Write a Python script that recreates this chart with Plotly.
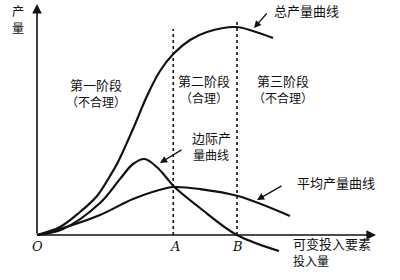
import plotly.graph_objects as go

# Variable input L and output Q
tp_L = [0, 0.92, 1.72, 2.4, 2.92, 3.24, 3.84, 4.4, 4.92, 5.45, 6.12, 6.8, 7.96, 8.64, 9.44]
tp_Q = [0, 0.8, 2.3, 3.9, 5.9, 7.3, 10.6, 13.9, 16.4, 18.1, 19.5, 20.3, 20.8, 20.4, 19.7]

mp_L = [0, 1.04, 2.52, 3.32, 3.84, 4.3, 4.79, 5.19, 5.5, 6.52, 8.0, 9.68]
mp_Q = [0, 0.6, 3.2, 5.6, 7.1, 7.6, 6.8, 5.7, 4.8, 2.7, 0, -1.6]

ap_L = [0, 1.04, 2.52, 3.84, 5.19, 5.5, 6.52, 8.04, 10.12]
ap_Q = [0, 0.7, 2.0, 3.6, 4.7, 4.8, 4.6, 3.9, 1.9]

point_A = 5.45
point_B = 8.0
stage_titles = ["第一阶段", "第二阶段", "第三阶段"]
stage_notes = ["（不合理）", "（合理）", "（不合理）"]

# pixel -> data helpers for layout placement
def X(px):
    return (px - 37) / 25.0

def Y(py):
    return (235 - py) / 10.0

fig = go.Figure()
line = dict(color="#111", width=2.2, shape="spline", smoothing=1.0)
fig.add_trace(go.Scatter(x=tp_L, y=tp_Q, mode="lines", line=line, hoverinfo="skip"))
fig.add_trace(go.Scatter(x=mp_L, y=mp_Q, mode="lines", line=line, hoverinfo="skip"))
fig.add_trace(go.Scatter(x=ap_L, y=ap_Q, mode="lines", line=line, hoverinfo="skip"))

# dashed stage boundaries
for xv, top in [(point_A, Y(29)), (point_B, Y(22))]:
    fig.add_shape(type="line", x0=xv, x1=xv, y0=0, y1=top,
                  line=dict(color="#111", width=1.6, dash="dot"))

ann = []
# axes with arrows
ann.append(dict(x=X(37), y=Y(4), ax=0, ay=0, axref="x", ayref="y", xref="x", yref="y",
                text="", showarrow=True, arrowhead=2, arrowsize=1.2, arrowwidth=1.6, arrowcolor="#111"))
ann.append(dict(x=X(376), y=0, ax=0, ay=0, axref="x", ayref="y", xref="x", yref="y",
                text="", showarrow=True, arrowhead=2, arrowsize=1.2, arrowwidth=1.6, arrowcolor="#111"))

cjk = "Noto Sans CJK SC"
def txt(px, py, s, size=12, xanchor="center", family=cjk, italic=False):
    t = f"<i>{s}</i>" if italic else s
    ann.append(dict(x=X(px), y=Y(py), xref="x", yref="y", text=t, showarrow=False,
                    xanchor=xanchor, yanchor="middle",
                    font=dict(family=family, size=size, color="#111")))

txt(18, 10, "产")
txt(18, 27, "量")
for cx, ty, ny, t, n in [(96, 84, 101, stage_titles[0], stage_notes[0]),
                         (204, 80, 97, stage_titles[1], stage_notes[1]),
                         (283, 80, 97, stage_titles[2], stage_notes[2])]:
    txt(cx, ty, t, size=13)
    txt(cx, ny, n)
txt(306, 10, "总产量曲线", size=13)
txt(211, 137, "边际产", size=13)
txt(211, 154, "量曲线")
txt(336, 182, "平均产量曲线", size=13)
txt(291, 243, "可变投入要素", size=13, xanchor="left")
txt(291, 260, "投入量", xanchor="left")
txt(37, 246, "O", size=13, family="DejaVu Serif", italic=True)
txt(175, 246, "A", size=13, family="DejaVu Serif", italic=True)
txt(237, 246, "B", size=13, family="DejaVu Serif", italic=True)

# pointer arrows
for (hx, hy, tx, ty) in [(254, 28, 268, 12), (160, 163, 183, 149), (257, 200, 283, 185)]:
    ann.append(dict(x=X(hx), y=Y(hy), ax=X(tx), ay=Y(ty), axref="x", ayref="y",
                    xref="x", yref="y", text="", showarrow=True, arrowhead=2,
                    arrowsize=1.1, arrowwidth=1.3, arrowcolor="#111"))

fig.update_layout(
    width=400, height=280, margin=dict(l=0, r=0, t=0, b=0),
    paper_bgcolor="white", plot_bgcolor="white", showlegend=False,
    xaxis=dict(range=[X(0), X(400)], visible=False, fixedrange=True),
    yaxis=dict(range=[Y(280), Y(0)], visible=False, fixedrange=True),
    annotations=ann,
)
fig.write_html("out.html")
